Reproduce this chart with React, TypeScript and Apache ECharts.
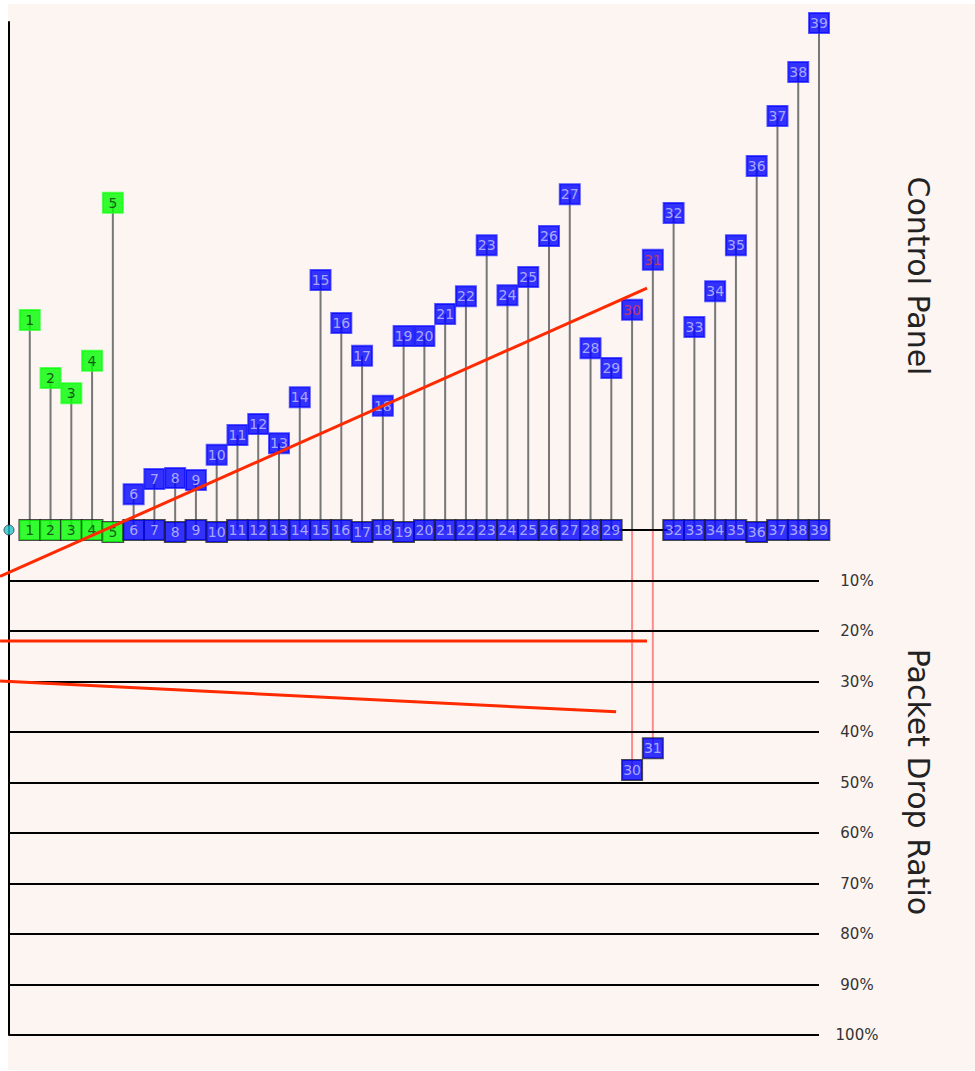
import React, { useEffect, useRef } from "react";
import * as echarts from "echarts";

// ---- data ----
const nodes = [
  1, 2, 3, 4, 5, 6, 7, 8, 9, 10, 11, 12, 13, 14, 15, 16, 17, 18, 19, 20,
  21, 22, 23, 24, 25, 26, 27, 28, 29, 30, 31, 32, 33, 34, 35, 36, 37, 38, 39,
];
// Control panel values (upper half)
const controlValues = [
  41.6, 30.1, 27.1, 33.5, 64.8, 7.1, 10.1, 10.3, 9.9, 14.9, 18.8, 21.0, 17.2,
  26.3, 49.5, 41.0, 34.5, 24.6, 38.4, 38.4, 42.8, 46.3, 56.4, 46.5, 50.1, 58.2,
  66.5, 36.0, 32.1, 43.6, 53.5, 62.8, 40.2, 47.3, 56.4, 72.1, 82.0, 90.7, 100.4,
];
const greenNodes = [1, 2, 3, 4, 5];
const redTextNodes = [30, 31];
const loweredBaseNodes = [5, 8, 10, 17, 19, 36];
// Packet drop ratio (%) for nodes that dropped below the baseline
const dropNodes = [30, 31];
const dropValues = [47.5, 43.2];
const dropTicks = [10, 20, 30, 40, 50, 60, 70, 80, 90, 100];
// trend lines: [node position, signed value] (negative = drop ratio %)
const trendControl: [number, number][] = [
  [-0.43, -9.2],
  [30.72, 47.9],
];
const trendDropA: [number, number][] = [
  [-0.43, -22.0],
  [30.72, -22.0],
];
const trendDropB: [number, number][] = [
  [-0.43, -29.9],
  [29.23, -36.0],
];
const controlTitle = "Control Panel";
const dropTitle = "Packet Drop Ratio";

const BLUE = "#0000ff";
const GREEN = "#00ff00";

export default function App() {
  const ref = useRef<HTMLDivElement>(null);
  useEffect(() => {
    if (!ref.current) return;
    const chart = echarts.init(ref.current, undefined, { renderer: "svg" });

    const boxLabel = {
      show: true,
      position: "inside",
      fontFamily: "DejaVu Sans",
      fontSize: 14,
      width: 16,
      height: 15,
      lineHeight: 15,
      align: "center",
      verticalAlign: "middle",
      padding: [3, 2, 2, 2],
      borderWidth: 1,
      overflow: "none",
    };

    const topLabelData = nodes.map((n, i) => {
      const green = greenNodes.includes(n);
      return {
        value: [n, controlValues[i]],
        label: {
          backgroundColor: green ? GREEN : BLUE,
          borderColor: green ? "#33ff33" : "#3030ff",
          color: green ? "#103010" : redTextNodes.includes(n) ? "#e83a3a" : "#c8c8ff",
        },
      };
    });

    const baseData = nodes
      .filter((n) => !dropNodes.includes(n))
      .map((n) => {
        const green = greenNodes.includes(n);
        return {
          value: [n, 0],
          label: {
            backgroundColor: green ? GREEN : BLUE,
            color: green ? "#103010" : "#c8c8ff",
            offset: loweredBaseNodes.includes(n) ? [0, 2] : [0, 0],
          },
        };
      });

    const dropData = dropNodes.map((n, i) => ({
      value: [n, -dropValues[i]],
      label: { backgroundColor: BLUE, color: "#c8c8ff" },
    }));

    const stemRender = (color: string) => (params: any, api: any) => {
      const p0 = api.coord([api.value(0), 0]);
      const p1 = api.coord([api.value(0), api.value(1)]);
      return {
        type: "line",
        shape: { x1: p0[0], y1: p0[1], x2: p1[0], y2: p1[1] },
        style: { stroke: color, lineWidth: 2 },
      };
    };

    const redLine = (data: [number, number][]) => ({
      type: "line",
      xAxisIndex: 1,
      yAxisIndex: 2,
      data,
      symbol: "none",
      clip: false,
      z: 20,
      silent: true,
      lineStyle: { color: "#ff2a00", width: 3 },
    });

    chart.setOption({
      animation: false,
      backgroundColor: "#ffffff",
      graphic: [
        {
          type: "rect",
          z: -10,
          silent: true,
          shape: { x: 8, y: 4, width: 967, height: 1066 },
          style: { fill: "#fdf5f2" },
        },
        {
          type: "text",
          x: 918,
          y: 276,
          rotation: -Math.PI / 2,
          style: {
            text: controlTitle,
            fontFamily: "DejaVu Sans",
            fontSize: 30,
            fill: "#222",
            align: "center",
            verticalAlign: "middle",
          },
        },
        {
          type: "text",
          x: 918,
          y: 782,
          rotation: -Math.PI / 2,
          style: {
            text: dropTitle,
            fontFamily: "DejaVu Sans",
            fontSize: 30,
            fill: "#222",
            align: "center",
            verticalAlign: "middle",
          },
        },
      ],
      grid: [
        { left: 9, top: 22, width: 810, height: 1013 },
        { left: 0, top: 22, width: 819, height: 1013 },
      ],
      xAxis: [
        { type: "value", gridIndex: 0, min: 0, max: 39, show: false },
        { type: "value", gridIndex: 1, min: -0.4333, max: 39, show: false },
      ],
      yAxis: [
        {
          type: "value",
          gridIndex: 0,
          min: -100,
          max: 100.6,
          position: "left",
          axisLine: { show: true, lineStyle: { color: "#000", width: 2 } },
          axisTick: { show: false },
          axisLabel: { show: false },
          splitLine: { show: false },
        },
        {
          type: "value",
          gridIndex: 0,
          min: -100,
          max: 100.6,
          interval: 10,
          position: "right",
          axisLine: { show: false },
          axisTick: { show: false },
          splitLine: { show: false },
          axisLabel: {
            formatter: (v: number) => (v < 0 ? `${Math.round(-v)}%` : ""),
            align: "center",
            margin: 38,
            fontFamily: "DejaVu Sans",
            fontSize: 15,
            color: "#333",
          },
        },
        {
          type: "value",
          gridIndex: 1,
          min: -100,
          max: 100.6,
          show: false,
          splitLine: { show: false },
        },
      ],
      series: [
        {
          type: "line",
          data: [
            [29, 0],
            [32, 0],
          ],
          symbol: "none",
          z: 2,
          silent: true,
          lineStyle: { color: "#000", width: 2 },
          markLine: {
            silent: true,
            symbol: "none",
            label: { show: false },
            lineStyle: { color: "#000", width: 2, type: "solid" },
            data: dropTicks.map((t) => ({ yAxis: -t })),
          },
        },
        {
          type: "custom",
          data: nodes.map((n, i) => [n, controlValues[i]]),
          renderItem: stemRender("#777777"),
          clip: false,
          silent: true,
          z: 1,
        },
        {
          type: "custom",
          data: dropNodes.map((n, i) => [n, -dropValues[i]]),
          renderItem: stemRender("#ff8a8a"),
          clip: false,
          silent: true,
          z: 1,
        },
        {
          type: "scatter",
          data: topLabelData,
          symbol: "rect",
          symbolSize: 1,
          itemStyle: { color: "rgba(0,0,0,0)" },
          label: { ...boxLabel, formatter: (p: any) => String(p.value[0]) },
          z: 5,
          silent: true,
        },
        {
          type: "scatter",
          data: baseData,
          symbol: "rect",
          symbolSize: 1,
          itemStyle: { color: "rgba(0,0,0,0)" },
          label: {
            ...boxLabel,
            width: 16.7,
            height: 16,
            lineHeight: 16,
            padding: [2, 2, 2, 2],
            borderColor: "#222",
            formatter: (p: any) => String(p.value[0]),
          },
          z: 5,
          silent: true,
        },
        {
          type: "scatter",
          data: dropData,
          symbol: "rect",
          symbolSize: 1,
          itemStyle: { color: "rgba(0,0,0,0)" },
          label: {
            ...boxLabel,
            borderColor: "#222",
            formatter: (p: any) => String(p.value[0]),
          },
          z: 5,
          silent: true,
        },
        {
          type: "scatter",
          data: [[0, 0]],
          symbol: "circle",
          symbolSize: 10,
          itemStyle: { color: "#22c4c8", borderColor: "#335", borderWidth: 1 },
          z: 6,
          silent: true,
        },
        redLine(trendControl),
        redLine(trendDropA),
        redLine(trendDropB),
      ],
    });
    return () => chart.dispose();
  }, []);
  return (
    <div
      ref={ref}
      style={{ position: "fixed", left: 0, top: 0, width: 975, height: 1071 }}
    />
  );
}
